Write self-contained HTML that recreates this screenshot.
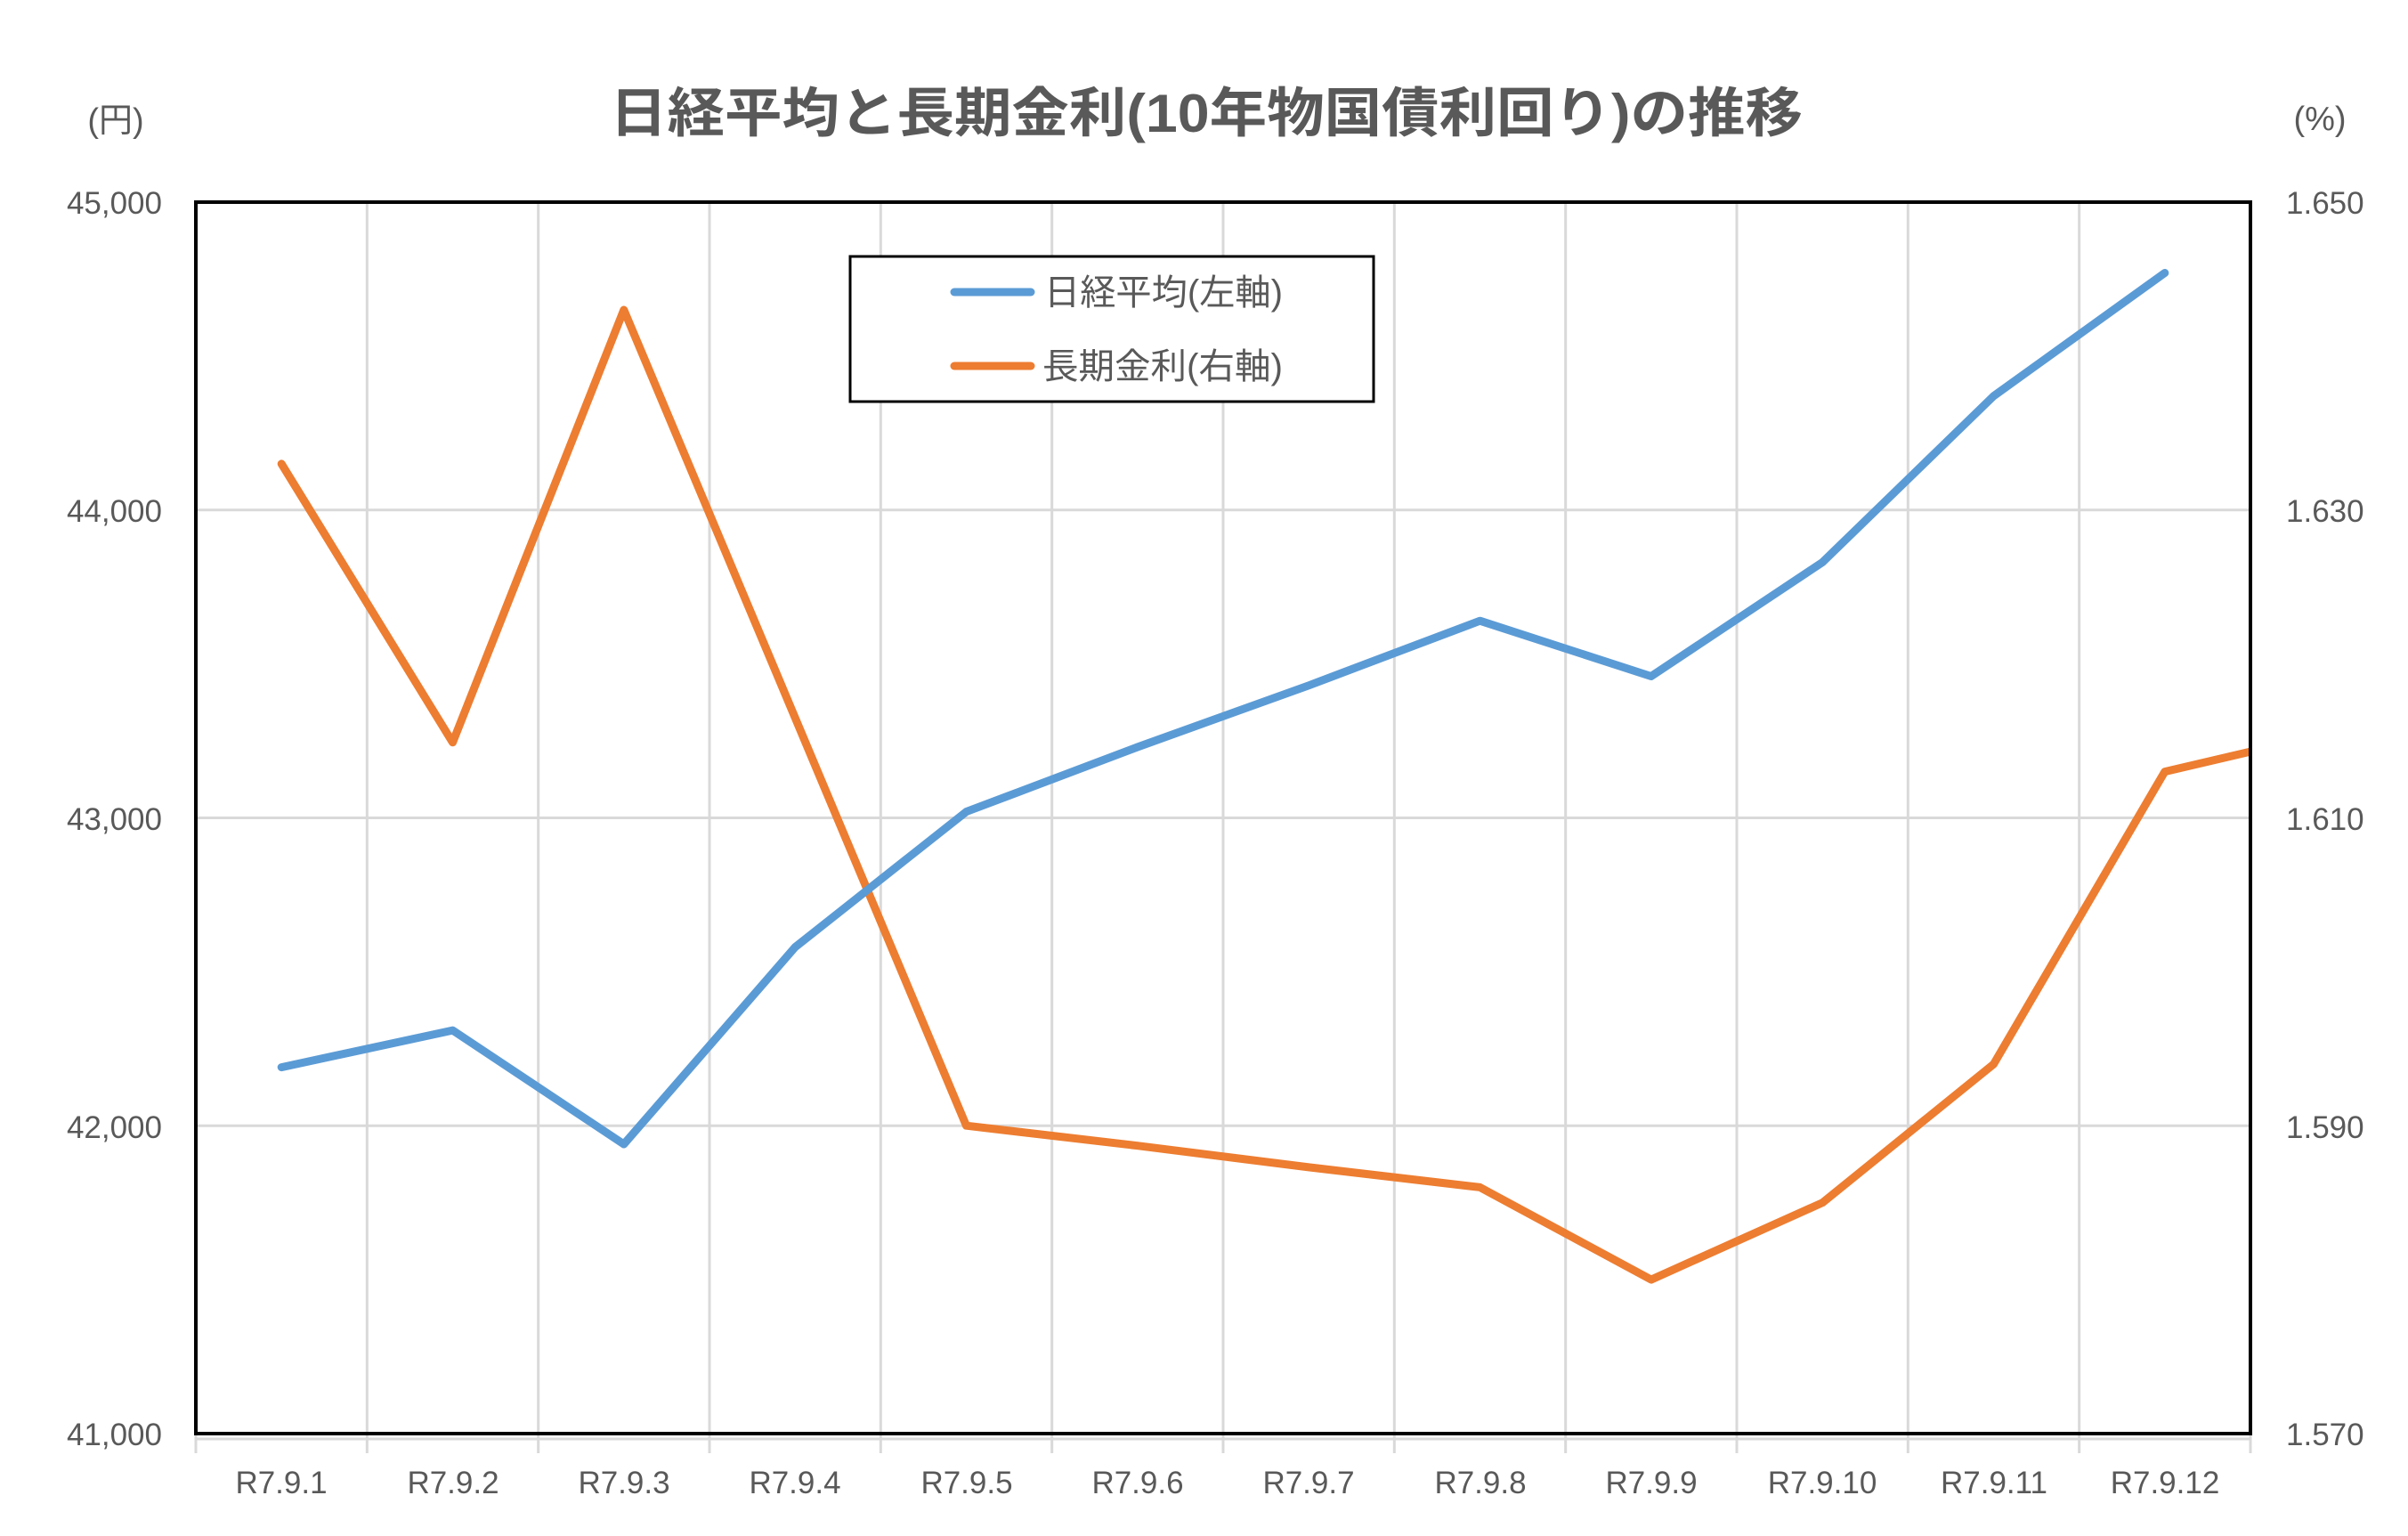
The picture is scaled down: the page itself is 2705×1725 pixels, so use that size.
<!DOCTYPE html>
<html><head><meta charset="utf-8"><style>
html,body{margin:0;padding:0;background:#fff;}
svg{display:block}
text{font-family:"Liberation Sans","Noto Sans CJK JP",sans-serif;fill:#595959}
</style></head><body>
<svg id="s" width="2705" height="1725" viewBox="0 0 2705 1725" xmlns="http://www.w3.org/2000/svg">
<rect width="2705" height="1725" fill="#fff"/>
<g id="grid"></g>
<text x="685" y="148" font-size="60" font-weight="bold" textLength="1340" lengthAdjust="spacingAndGlyphs">日経平均と長期金利(10年物国債利回り)の推移</text>
<text x="130" y="148" font-size="38" text-anchor="middle">(円)</text>
<text x="2606" y="146" font-size="38" text-anchor="middle">(%)</text>
<g font-size="35" text-anchor="end">
<text x="182" y="240">45,000</text>
<text x="182" y="586">44,000</text>
<text x="182" y="932">43,000</text>
<text x="182" y="1278">42,000</text>
<text x="182" y="1623">41,000</text>
</g>
<g font-size="35" text-anchor="start">
<text x="2568" y="240">1.650</text>
<text x="2568" y="586">1.630</text>
<text x="2568" y="932">1.610</text>
<text x="2568" y="1278">1.590</text>
<text x="2568" y="1623">1.570</text>
</g>
<g id="xl" font-size="35" text-anchor="middle">
<text x="316" y="1677">R7.9.1</text>
<text x="509" y="1677">R7.9.2</text>
<text x="701" y="1677">R7.9.3</text>
<text x="893" y="1677">R7.9.4</text>
<text x="1086" y="1677">R7.9.5</text>
<text x="1278" y="1677">R7.9.6</text>
<text x="1470" y="1677">R7.9.7</text>
<text x="1663" y="1677">R7.9.8</text>
<text x="1855" y="1677">R7.9.9</text>
<text x="2047" y="1677">R7.9.10</text>
<text x="2240" y="1677">R7.9.11</text>
<text x="2432" y="1677">R7.9.12</text>
</g>
<defs><clipPath id="c"><rect x="220" y="227" width="2308" height="1383"/></clipPath></defs>
<g id="lines" clip-path="url(#c)"></g>
<rect x="220" y="227" width="2308" height="1383" fill="none" stroke="#000" stroke-width="4"/>
<rect x="955" y="288" width="588" height="163" fill="#fff" stroke="#000" stroke-width="3"/>
<line x1="1072" y1="328" x2="1158" y2="328" stroke="#5b9bd5" stroke-width="9" stroke-linecap="round"/>
<line x1="1072" y1="411" x2="1158" y2="411" stroke="#ed7d31" stroke-width="9" stroke-linecap="round"/>
<text x="1173" y="342" font-size="40" textLength="268" lengthAdjust="spacingAndGlyphs">日経平均(左軸)</text>
<text x="1171" y="425" font-size="40" textLength="270" lengthAdjust="spacingAndGlyphs">長期金利(右軸)</text>
</svg>
<script>
var NS="http://www.w3.org/2000/svg",L=220,R=2528,T=227,B=1610,W=(R-L)/12,H=B-T;
var g=document.getElementById('grid');
function ln(p,a){var e=document.createElementNS(NS,'line');for(var k in a)e.setAttribute(k,a[k]);p.appendChild(e);}
for(var i=1;i<12;i++){var x=L+W*i;ln(g,{x1:x,y1:T,x2:x,y2:B+22,stroke:'#d9d9d9','stroke-width':3});}
ln(g,{x1:L,y1:B,x2:L,y2:B+22,stroke:'#d9d9d9','stroke-width':3});
ln(g,{x1:R,y1:B,x2:R,y2:B+22,stroke:'#d9d9d9','stroke-width':3});
for(var j=1;j<4;j++){var y=T+H/4*j;ln(g,{x1:L,y1:y,x2:R,y2:y,stroke:'#d9d9d9','stroke-width':3});}
ln(g,{x1:L,y1:B+6,x2:R,y2:B+6,stroke:'#d9d9d9','stroke-width':3});
var nk=[42190,42310,41940,42580,43020,43230,43430,43640,43460,43830,44370,44770];
var rt=[1.633,1.6149,1.643,1.6165,1.590,1.5887,1.5873,1.586,1.580,1.585,1.594,1.613,1.6156];
function pl(pts,c){var e=document.createElementNS(NS,'polyline');e.setAttribute('points',pts.join(' '));e.setAttribute('fill','none');e.setAttribute('stroke',c);e.setAttribute('stroke-width',9);e.setAttribute('stroke-linejoin','round');e.setAttribute('stroke-linecap','round');document.getElementById('lines').appendChild(e);}
var a=[],b=[];
nk.forEach(function(v,i){a.push((L+W*(i+.5)).toFixed(1)+','+(B-(v-41000)/4000*H).toFixed(1));});
rt.forEach(function(v,i){b.push((L+W*(i+.5)).toFixed(1)+','+(B-(v-1.57)/0.08*H).toFixed(1));});
pl(b,'#ed7d31');pl(a,'#5b9bd5');
</script>
</body></html>
